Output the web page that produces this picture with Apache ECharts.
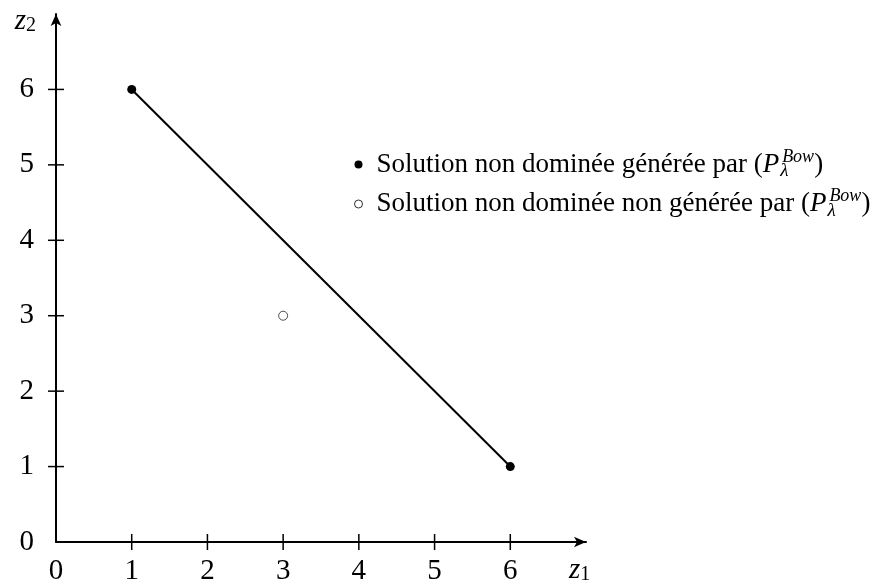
<!DOCTYPE html>
<html><head><meta charset="utf-8">
<script src="https://cdn.jsdelivr.net/npm/echarts@6/dist/echarts.min.js"></script>
<style>html,body{margin:0;padding:0;background:#fff}#c{width:882px;height:587px}</style>
</head><body><div id="c"></div>
<script>
const tickValues = [1, 2, 3, 4, 5, 6];
const xLabels = [0, 1, 2, 3, 4, 5, 6];
const yLabels = [0, 1, 2, 3, 4, 5, 6];
const generated = [[1, 6], [6, 1]];
const notGenerated = [[3, 3]];
const seriesNames = ['Solution non dominée générée par', 'Solution non dominée non générée par'];

const chart = echarts.init(document.getElementById('c'));
const font = 'Liberation Serif';
const base = { type: 'value', min: 0, max: 7, interval: 1, splitLine: { show: false } };
const nameRich = {
  z: { fontFamily: font, fontSize: 29, fontStyle: 'italic', color: '#000' },
  s: { fontFamily: font, fontSize: 20, color: '#000', padding: [10, 0, 0, 0] }
};
const rich = {
  g: { width: 9 },
  t: { fontFamily: font, fontSize: 27, color: '#000' },
  i: { fontFamily: font, fontSize: 27, fontStyle: 'italic', color: '#000' },
  sub: { fontFamily: font, fontSize: 19, fontStyle: 'italic', color: '#000', width: 1, padding: [13, 0, 0, 1] },
  sup: { fontFamily: font, fontSize: 18, fontStyle: 'italic', color: '#000', padding: [0, 0, 15, 1] }
};
function crossTick(isX) {
  return function (params, api) {
    const v = api.value(0);
    const p = api.coord(isX ? [v, 0] : [0, v]);
    const shape = isX
      ? { x1: p[0], y1: p[1] - 8, x2: p[0], y2: p[1] + 8 }
      : { x1: p[0] - 8, y1: p[1], x2: p[0] + 8, y2: p[1] };
    return { type: 'line', shape: shape, style: { stroke: '#000', lineWidth: 1.5 } };
  };
}
chart.setOption({
  animation: false,
  grid: { left: 56, right: 296, top: 14, bottom: 45, containLabel: false },
  xAxis: Object.assign({}, base, {
    name: '{z|z}{s|1}', nameLocation: 'end', nameGap: -17,
    nameTextStyle: { padding: [56, 0, 0, 0], rich: nameRich },
    axisLine: { onZero: false, symbol: ['none', 'arrow'], symbolSize: [8, 12], lineStyle: { color: '#000', width: 2 } },
    axisTick: { show: false },
    axisLabel: { margin: 15, fontFamily: font, fontSize: 29, color: '#000', customValues: xLabels }
  }),
  yAxis: Object.assign({}, base, {
    name: '{z|z}{s|2}', nameLocation: 'end', nameGap: -22,
    nameTextStyle: { align: 'right', padding: [0, 20, 0, 0], rich: nameRich },
    axisLine: { onZero: false, symbol: ['none', 'arrow'], symbolSize: [8, 12], lineStyle: { color: '#000', width: 2 } },
    axisTick: { show: false },
    axisLabel: { margin: 22, fontFamily: font, fontSize: 29, color: '#000', customValues: yLabels }
  }),
  legend: {
    orient: 'vertical', left: 349, top: 143, itemGap: 7, itemWidth: 8, itemHeight: 8,
    data: [
      { name: seriesNames[0], icon: 'circle', itemStyle: { color: '#000' } },
      { name: seriesNames[1], icon: 'circle', itemStyle: { color: '#fff', borderColor: '#000', borderWidth: 1 } }
    ],
    formatter: n => '{g|}{t|' + n + ' (}{i|P}{sub|λ}{sup|Bow}{t|)}',
    textStyle: { rich: rich }
  },
  series: [
    { name: 'xticks', type: 'custom', data: tickValues.map(v => [v]), renderItem: crossTick(true), clip: false, z: 3 },
    { name: 'yticks', type: 'custom', data: tickValues.map(v => [v]), renderItem: crossTick(false), clip: false, z: 3 },
    { name: seriesNames[0], type: 'line', data: generated,
      symbol: 'circle', symbolSize: 9,
      lineStyle: { color: '#000', width: 2 }, itemStyle: { color: '#000' } },
    { name: seriesNames[1], type: 'scatter', data: notGenerated,
      symbol: 'circle', symbolSize: 9,
      itemStyle: { color: '#fff', borderColor: '#222', borderWidth: 1 } }
  ]
});
</script></body></html>
